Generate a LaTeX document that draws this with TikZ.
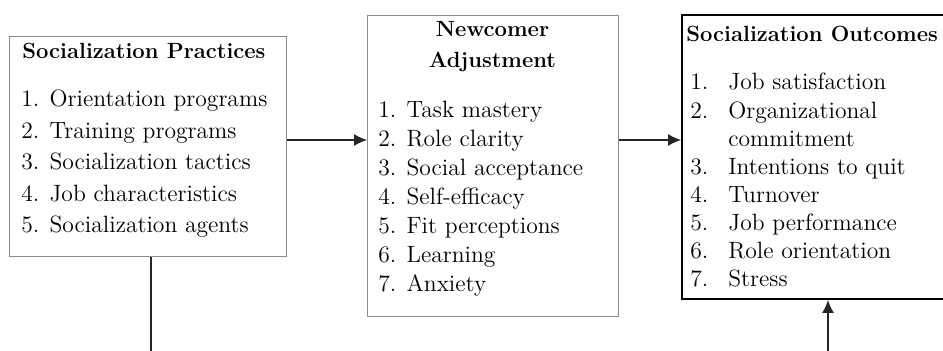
\documentclass[tikz,border=0pt]{standalone}
\usepackage{tikz}
\usetikzlibrary{arrows.meta}

\tikzset{
  box/.style={draw=black!45, line width=0.5pt, rectangle, anchor=north west, inner sep=0},
  mainbox/.style={draw=black, line width=1pt, rectangle, anchor=north west, inner sep=0},
  heading/.style={font=\fontsize{11}{15.5}\selectfont\bfseries, inner sep=0},
  items/.style={font=\fontsize{11.8}{#1}\selectfont, inner sep=0, anchor=base west},
  flow/.style={draw=black!85, line width=0.6pt, -{Latex[length=6.5pt,width=6pt]}},
  link/.style={draw=black!85, line width=0.6pt}
}

\begin{document}
\begin{tikzpicture}[x=0.5pt,y=-0.5pt]
        \useasboundingbox (0,0) rectangle (943,351);
        % the three boxes
        \node[box, minimum width=138.5pt, minimum height=110pt] (practices) at (9,36) {};
        \node[box, minimum width=125.5pt, minimum height=150.5pt] (adjustment) at (367,15) {};
        \node[mainbox, minimum width=139.5pt, minimum height=142pt] (outcomes) at (681,14) {};
        % their texts
        \node[heading, anchor=base west] (practicesTitle) at (22,59) {Socialization Practices};
        \node[items=15.75pt] (practicesList) at (21,107) {\begin{tabular}[t]{@{}l@{}}
            1. Orientation programs\\ 2. Training programs\\ 3. Socialization tactics\\
            4. Job characteristics\\ 5. Socialization agents\end{tabular}};
        \node[heading, anchor=base] (adjustmentTitle) at (492.5,37) {\begin{tabular}[t]{@{}c@{}}Newcomer\\ Adjustment\end{tabular}};
        \node[items=14.5pt] (adjustmentList) at (378,118) {\begin{tabular}[t]{@{}l@{}}
            1. Task mastery\\ 2. Role clarity\\ 3. Social acceptance\\ 4. Self-efficacy\\
            5. Fit perceptions\\ 6. Learning\\ 7. Anxiety\end{tabular}};
        \node[heading, anchor=base west] (outcomesTitle) at (686,42) {Socialization Outcomes};
        \node[items=14.07pt] (outcomesList) at (690,90) {\begin{tabular}[t]{@{}p{19pt}@{}l@{}}
            1. & Job satisfaction\\ 2. & Organizational\\ & commitment\\ 3. & Intentions to quit\\
            4. & Turnover\\ 5. & Job performance\\ 6. & Role orientation\\ 7. & Stress\end{tabular}};
        % connectors
        \coordinate (midline) at (0,140);
        \coordinate (practicesOut) at (151,351);
        \coordinate (outcomesIn) at (828,351);
        \path[flow] (practices.east |- midline) -- (adjustment.west |- midline);
        \path[flow] (adjustment.east |- midline) -- (outcomes.west |- midline);
        \path[link] (practices.south -| practicesOut) -- (practicesOut);
        \path[flow] (outcomesIn) -- (outcomesIn |- outcomes.south);
    \end{tikzpicture}
\end{document}
